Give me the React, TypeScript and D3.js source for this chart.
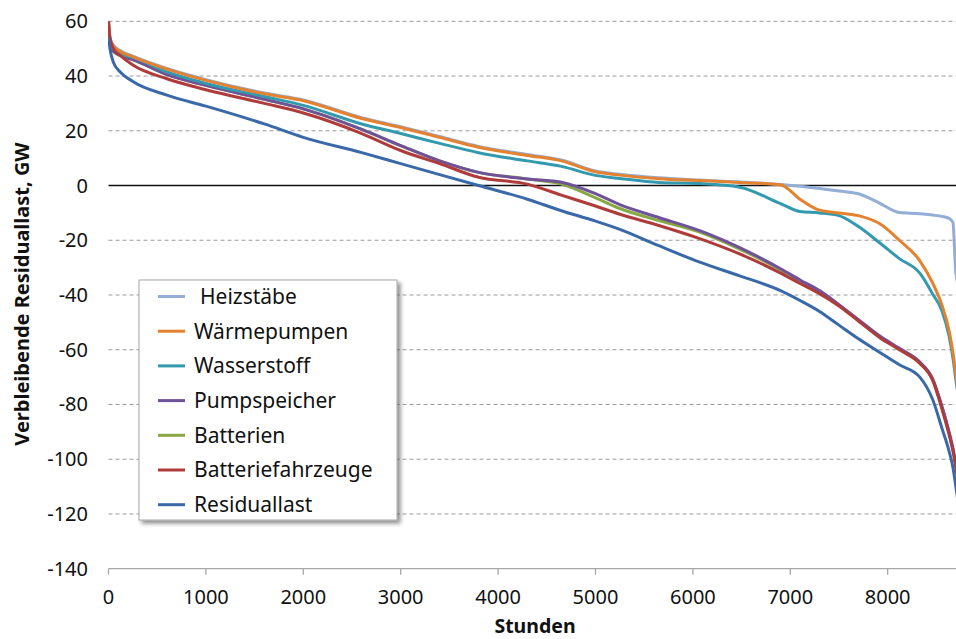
import React from "react";
import * as d3 from "d3";

const hours = [0, 15, 50, 120, 250, 600, 1000, 1600, 2000, 2600, 3000, 3400, 3800, 4300, 4650, 5000, 5250, 5650, 6070, 6480, 6900, 7100, 7300, 7500, 7700, 7920, 8120, 8330, 8460, 8560, 8630, 8670, 8700, 8760];

const heizstaebe = [60, 54, 51.3, 49.3, 47.3, 42.8, 38.7, 33.8, 31.3, 24.8, 21.5, 17.9, 14.3, 11.3, 9.3, 5.3, 4.1, 2.8, 2.0, 1.3, 0.4, -0.3, -1.1, -2.0, -3.0, -6.5, -9.9, -10.3, -10.8, -11.3, -12, -13.5, -32, -40];
const waermepumpen = [60, 54, 51, 49, 47, 42.5, 38.4, 33.5, 31, 24.5, 21.2, 17.6, 14, 11, 9, 5, 3.8, 2.5, 1.8, 1.1, 0.3, -5, -9, -10, -11, -14, -20, -27.5, -35.5, -44, -53, -61, -69, -85];
const wasserstoff = [59, 53, 50, 48, 46.8, 41.5, 37.3, 32.5, 29.3, 22.5, 19, 15.4, 12, 9, 7, 3.7, 2.6, 1.1, 0.7, -0.6, -6.6, -9.5, -10, -11, -15, -21, -26.7, -32, -39.5, -46, -55, -63, -71, -85];
const pumpspeicher = [58, 52, 49, 47.5, 46, 40.5, 36.6, 31.5, 28, 20.5, 14.6, 9, 4.8, 2.4, 1.2, -3, -7, -11.7, -16.5, -22.7, -30.4, -34.5, -38.4, -43.5, -49, -55, -59.5, -64.5, -70.5, -81, -90, -96, -102, -117];
const batterien = [58, 52, 49, 47.5, 46, 40.5, 36.6, 31.5, 28, 20.5, 14.6, 9, 4.8, 2.4, 0.5, -4.5, -8.4, -12.8, -17, -23.2, -30.8, -34.8, -38.7, -43.8, -49.3, -55.3, -59.8, -64.8, -70.8, -81.3, -90.3, -96.3, -102.3, -117.3];
const batteriefahrzeuge = [60, 54, 50, 47.5, 44, 39, 35, 30, 26.5, 19, 12.8, 8, 3, 0.5, -3.5, -7.5, -10.5, -14.6, -19.4, -25, -32, -35.8, -39.5, -44, -49.5, -55.6, -60, -65, -71, -82, -91, -97, -103, -118];
const residuallast = [54, 50, 45, 41.5, 38, 33, 29, 22.5, 17.6, 12, 8, 4, 0, -5, -9.2, -13, -16, -22, -28, -33, -38.4, -42, -46, -51, -56, -61, -65.5, -70, -78, -89, -97, -103, -110, -125];

const seriesNames = ["Heizstäbe", "Wärmepumpen", "Wasserstoff", "Pumpspeicher", "Batterien", "Batteriefahrzeuge", "Residuallast"];
const seriesValues = [heizstaebe, waermepumpen, wasserstoff, pumpspeicher, batterien, batteriefahrzeuge, residuallast];
const seriesColors = ["#93AED6", "#E4822F", "#3399AF", "#6F5299", "#88A845", "#AF3B3B", "#3A69AA"];

const xTicks = [0, 1000, 2000, 3000, 4000, 5000, 6000, 7000, 8000];
const yTicks = [60, 40, 20, 0, -20, -40, -60, -80, -100, -120, -140];

const FONT = "'Noto Sans', 'Open Sans', sans-serif";

export default function App() {
  const W = 956, H = 639;
  const x = d3.scaleLinear().domain([0, 8760]).range([108.5, 961.7]);
  const y = d3.scaleLinear().domain([-140, 60]).range([568.7, 21.3]);
  const line = d3.line<number>()
    .x((_, i) => x(hours[i]))
    .y((v) => y(v))
    .curve(d3.curveMonotoneX);

  const drawOrder = [0, 4, 3, 2, 1, 5, 6];

  const lgX = 139, lgY = 280, lgW = 258, lgH = 240;
  const rowY0 = 296.5, rowDy = 34.7;

  return (
    <svg width={W} height={H} style={{ position: "absolute", left: 0, top: 0, background: "#fff" }} fontFamily={FONT}>
      <defs>
        <clipPath id="plot">
          <rect x={108} y={0} width={W - 108} height={570} />
        </clipPath>
        <filter id="sh" x="-10%" y="-10%" width="130%" height="130%">
          <feGaussianBlur in="SourceAlpha" stdDeviation="2" />
          <feOffset dx="3" dy="3" result="ob" />
          <feComponentTransfer><feFuncA type="linear" slope="0.45" /></feComponentTransfer>
          <feMerge><feMergeNode /><feMergeNode in="SourceGraphic" /></feMerge>
        </filter>
      </defs>
      {yTicks.filter((t) => t !== 0 && t !== -140).map((t) => (
        <line key={"g" + t} x1={108.5} x2={W} y1={y(t)} y2={y(t)} stroke="#9a9a9a" strokeWidth={1} strokeDasharray="4,3" />
      ))}
      {yTicks.map((t) => (
        <text key={"yl" + t} x={88} y={y(t)} dy="0.35em" textAnchor="end" fontSize={20} fill="#111">{t}</text>
      ))}
      <line x1={108.5} x2={W} y1={y(-140)} y2={y(-140)} stroke="#a6a6a6" strokeWidth={1.3} />
      {xTicks.map((t) => (
        <g key={"xt" + t}>
          <line x1={x(t)} x2={x(t)} y1={y(-140)} y2={y(-140) + 6} stroke="#a6a6a6" strokeWidth={1.3} />
          <text x={x(t)} y={604} textAnchor="middle" fontSize={20} fill="#111">{t}</text>
        </g>
      ))}
      <line x1={108.5} x2={W} y1={y(0)} y2={y(0)} stroke="#111" strokeWidth={1.5} />
      <g clipPath="url(#plot)">
        {drawOrder.map((i) => (
          <path key={seriesNames[i]} d={line(seriesValues[i]) || ""} fill="none" stroke={seriesColors[i]} strokeWidth={3} strokeLinejoin="round" />
        ))}
      </g>
      <text x={535} y={633} textAnchor="middle" fontSize={19.5} fontWeight="bold" fill="#111">Stunden</text>
      <text transform="translate(29,294) rotate(-90)" textAnchor="middle" fontSize={20} fontWeight="bold" fill="#111">Verbleibende Residuallast, GW</text>
      <g>
        <rect x={lgX} y={lgY} width={lgW} height={lgH} fill="#fff" stroke="#a6a6a6" strokeWidth={1} filter="url(#sh)" />
        {seriesNames.map((n, i) => (
          <g key={"lg" + n}>
            <line x1={158} x2={185} y1={rowY0 + i * rowDy} y2={rowY0 + i * rowDy} stroke={seriesColors[i]} strokeWidth={3} />
            <text x={i === 0 ? 200 : 194} y={rowY0 + i * rowDy} dy="0.35em" fontSize={21} fill="#111">{n}</text>
          </g>
        ))}
      </g>
    </svg>
  );
}
